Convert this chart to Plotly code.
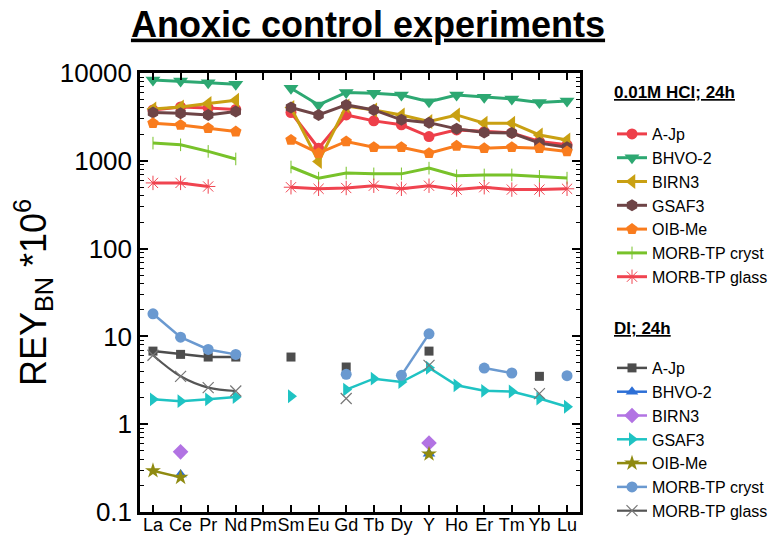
import plotly.graph_objects as go

categories = ["La", "Ce", "Pr", "Nd", "Pm", "Sm", "Eu", "Gd", "Tb", "Dy", "Y", "Ho", "Er", "Tm", "Yb", "Lu"]

# 0.01M HCl; 24h
hcl_ajp   = [3800, 4100, 4000, 3850, None, 3550, 1390, 3330, 2850, 2570, 1890, 2250, 2150, 2080, 1660, 1520]
hcl_bhvo  = [8300, 8100, 7750, 7430, None, 6700, 4330, 6000, 5880, 5620, 4720, 5600, 5300, 5070, 4600, 4800]
hcl_birn  = [3900, 4100, 4500, 4900, None, 4040, 980, 4200, 3800, 3330, 2800, 3330, 2680, 2680, 1970, 1730]
hcl_gsaf  = [3540, 3480, 3330, 3640, None, 4040, 3330, 4330, 3800, 2930, 2720, 2310, 2100, 2070, 1590, 1430]
hcl_oib   = [2680, 2560, 2350, 2150, None, 1730, 1220, 1660, 1430, 1430, 1220, 1480, 1390, 1430, 1390, 1280]
hcl_mcry  = [1590, 1520, 1280, 1050, None, 850, 635, 725, 710, 710, 825, 675, 690, 690, 665, 635]
hcl_mgla  = [560, 560, 510, None, None, 500, 480, 490, 520, 480, 520, 470, 500, 470, 470, 480]

# DI; 24h
di_ajp  = [6.8, 6.24, 5.82, 5.82, None, 5.82, None, 4.48, None, None, 6.8, None, None, None, 3.51, None]
di_bhvo = [None, 0.268, None, None, None, None, None, None, None, None, 0.46, None, None, None, None, None]
di_birn = [None, 0.484, None, None, None, None, None, None, None, None, 0.61, None, None, None, None, None]
di_gsaf = [1.92, 1.83, 1.92, 2.04, None, 2.08, None, 2.48, 3.3, 3.02, 4.4, 2.77, 2.4, 2.36, 1.96, 1.58]
di_oib  = [0.295, 0.248, None, None, None, None, None, None, None, None, 0.457, None, None, None, None, None]
di_mcry = [18.1, 9.8, 7.1, 6.24, None, None, None, 3.7, None, 3.6, 10.7, None, 4.36, 3.83, None, 3.57]
di_mgla = [6.1, 3.51, 2.61, 2.39, None, None, None, 1.96, None, None, 4.67, None, None, None, 2.23, None]

y_ticks = [0.1, 1, 10, 100, 1000, 10000]
y_ticktext = ["0.1", "1", "10", "100", "1000", "10000"]

FONT = "Liberation Sans, Arial, sans-serif"

fig = go.Figure()

def add(name, y, color, symbol, size, legend, lw=3, line_marker=False, mlw=0, mcolor=None, shape="linear"):
    marker = dict(symbol=symbol, size=size, color=mcolor or color)
    if line_marker:
        marker["line"] = dict(color=mcolor or color, width=mlw)
    else:
        marker["line"] = dict(width=0)
    fig.add_trace(go.Scatter(
        x=categories, y=y, name=name, mode="lines+markers",
        line=dict(color=color, width=lw, shape=shape),
        marker=marker, legend=legend, connectgaps=False,
    ))

# HCl series
add("A-Jp", hcl_ajp, "#EE3F4A", "circle", 11, "legend")
add("BHVO-2", hcl_bhvo, "#2DA872", "triangle-down", 13, "legend")
add("BIRN3", hcl_birn, "#C9A012", "triangle-left", 13, "legend")
add("GSAF3", hcl_gsaf, "#6E4446", "hexagon", 12, "legend")
add("OIB-Me", hcl_oib, "#F97C1E", "pentagon", 12, "legend")
add("MORB-TP cryst", hcl_mcry, "#78C22A", "line-ns", 9, "legend", line_marker=True, mlw=1)
add("MORB-TP glass", hcl_mgla, "#F04450", "asterisk", 12, "legend", line_marker=True, mlw=1)

# DI series
add("A-Jp", di_ajp, "#4D4D4D", "square", 9, "legend2", lw=2.5)
add("BHVO-2", di_bhvo, "#2D6FD6", "triangle-up", 11, "legend2", lw=2.5)
add("BIRN3", di_birn, "#B273E3", "diamond", 12, "legend2", lw=2.5)
add("GSAF3", di_gsaf, "#1FC3C3", "triangle-right", 12, "legend2", lw=2.5)
add("OIB-Me", di_oib, "#8F8A10", "star", 12, "legend2", lw=2.5)
add("MORB-TP cryst", di_mcry, "#6A99D0", "circle", 11, "legend2", lw=2.5)
add("MORB-TP glass", di_mgla, "#555555", "x-thin", 11, "legend2", lw=2.2,
    line_marker=True, mlw=1.2, mcolor="#777777", shape="spline")

minor_vals = [k * 10.0 ** e for e in range(-1, 4) for k in range(2, 10)]

fig.update_layout(
    width=780, height=543,
    margin=dict(l=140, r=200, t=73, b=31),
    paper_bgcolor="white", plot_bgcolor="white",
    font=dict(family=FONT, color="black"),
    showlegend=True,
    title=dict(text="<b><u>Anoxic control experiments</u></b>", x=368 / 780, xanchor="center",
               y=1 - 24 / 543, yanchor="middle", font=dict(size=36, family=FONT, color="black")),
    xaxis=dict(
        type="category", categoryorder="array", categoryarray=categories,
        range=[-0.47, 15.47], showgrid=False, zeroline=False, automargin=False,
        showline=True, linecolor="black", linewidth=2.5, mirror="ticks",
        ticks="inside", ticklen=7, tickwidth=1.5, tickcolor="black", tickangle=0,
        ticklabelstandoff=-5,
        tickfont=dict(size=18, family=FONT, color="black"),
    ),
    yaxis=dict(
        type="log", range=[-1, 4], showgrid=False, zeroline=False, automargin=False,
        showline=True, linecolor="black", linewidth=2.5, mirror="ticks",
        ticks="inside", ticklen=8, tickwidth=1.5, tickcolor="black",
        tickvals=y_ticks, ticktext=y_ticktext,
        tickfont=dict(size=26, family=FONT, color="black"),
        minor=dict(tickvals=minor_vals, ticks="inside", ticklen=4, tickwidth=1.2, tickcolor="black"),
        title=dict(text="REY<sub>BN</sub> *10<sup>6</sup>", font=dict(size=36, family=FONT, color="black"),
                   standoff=3),
    ),
    legend=dict(
        x=612 / 780, xref="container", y=1 - 117 / 543, yref="container",
        xanchor="left", yanchor="top", bgcolor="rgba(0,0,0,0)",
        font=dict(size=16, family=FONT, color="black"), tracegroupgap=0, itemwidth=30,
    ),
    legend2=dict(
        x=612 / 780, xref="container", y=1 - 351 / 543, yref="container",
        xanchor="left", yanchor="top", bgcolor="rgba(0,0,0,0)",
        font=dict(size=16, family=FONT, color="black"), tracegroupgap=0, itemwidth=30,
    ),
    annotations=[
        dict(text="<b><u>0.01M HCl; 24h</u></b>", xref="paper", yref="paper",
             x=(612 - 140) / 440, y=1 - (93 - 73) / 439, xanchor="left", yanchor="middle",
             showarrow=False, font=dict(size=17, family=FONT, color="black")),
        dict(text="<b><u>DI; 24h</u></b>", xref="paper", yref="paper",
             x=(612 - 140) / 440, y=1 - (328 - 73) / 439, xanchor="left", yanchor="middle",
             showarrow=False, font=dict(size=17, family=FONT, color="black")),
    ],
)

fig.write_html("out.html")
